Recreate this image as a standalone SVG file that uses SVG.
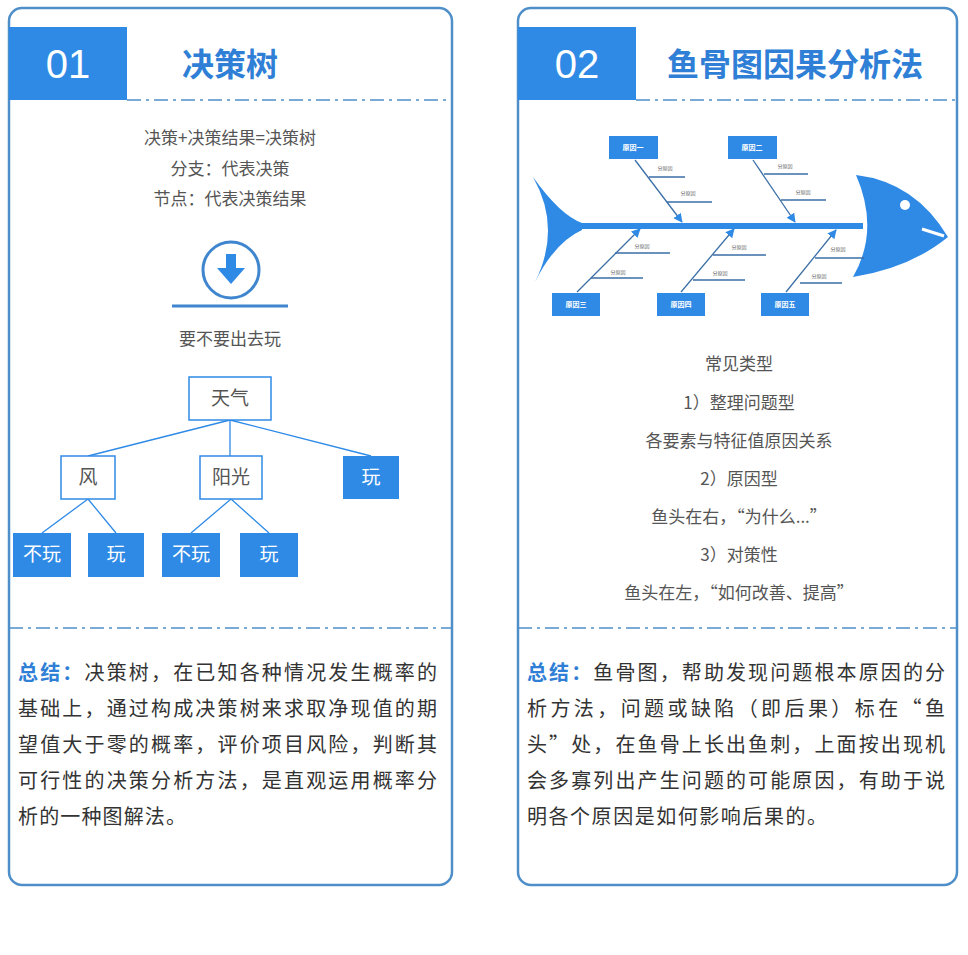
<svg xmlns="http://www.w3.org/2000/svg" width="968" height="955" viewBox="0 0 968 955">
<style>
text{font-family:"Noto Sans CJK SC","Liberation Sans",sans-serif}
.panel{fill:#fff;stroke:#4f8fc9;stroke-width:2.5}
.dash{stroke:#4f8fc9;stroke-width:1.5;stroke-dasharray:14 5 3 5;fill:none}
.hdr{fill:#2f8ae6}
.num{fill:#fff;font-size:40px;font-family:"Liberation Sans",sans-serif}
.title{fill:#2f7fd6;font-size:32px;font-weight:bold}
.mid{fill:#555;font-size:17px;text-anchor:middle}
.sum{fill:#333;font-size:20px}
.sb{fill:#2f7fd6;font-weight:bold}
.nb{fill:#fff;stroke:#2f8ae6;stroke-width:1.5}
.nf{fill:#2f8ae6}
.nt{font-size:19px;text-anchor:middle;fill:#555}
.ntw{font-size:19px;text-anchor:middle;fill:#fff}
.ln{stroke:#2f8ae6;stroke-width:1.3;fill:none}
.fb{fill:#2f8ae6}
.bone{stroke:#3b6fa6;stroke-width:1.3;fill:none}
.fl{font-size:7px;fill:#fff;text-anchor:middle;font-weight:bold}
.sl{font-size:5px;fill:#666;text-anchor:middle}
</style>
<defs><marker id="ah" viewBox="0 0 10 10" refX="9" refY="5" markerWidth="7" markerHeight="7" orient="auto"><path d="M0,0L10,5L0,10z" fill="#2f8ae6"/></marker></defs>
<rect x="0" y="0" width="968" height="955" fill="#fff"/>
<g id="panel1">
<rect class="panel" x="9" y="8" width="443" height="877" rx="13"/>
<rect class="hdr" x="9" y="27" width="118" height="73"/>
<text class="num" x="68" y="78" text-anchor="middle">01</text>
<text class="title" x="230" y="76" text-anchor="middle">决策树</text>
<line class="dash" x1="127" y1="100" x2="452" y2="100"/>
<text class="mid" x="230" y="144">决策+决策结果=决策树</text>
<text class="mid" x="230" y="175">分支：代表决策</text>
<text class="mid" x="230" y="205">节点：代表决策结果</text>
<circle cx="231" cy="270" r="28" fill="none" stroke="#3f86cf" stroke-width="3"/>
<path d="M226,254h10v14h9l-14,16l-14,-16h9z" fill="#2f8ae6"/>
<line x1="172" y1="306" x2="288" y2="306" stroke="#3f86cf" stroke-width="3"/>
<text class="mid" x="230" y="345">要不要出去玩</text>
</g>
<g id="tree-connectors">
<path class="ln" d="M230,420L88,456M230,420V456M230,420L371,456M88,499L42,533M88,499L116,533M231,499L191,533M231,499L269,533"/>
</g>
<g id="n-tianqi"><rect class="nb" x="189" y="377" width="82" height="43"/><text class="nt" x="230" y="405">天气</text></g>
<g id="n-feng"><rect class="nb" x="61" y="456" width="54" height="43"/><text class="nt" x="88" y="484">风</text></g>
<g id="n-yangguang"><rect class="nb" x="200" y="456" width="62" height="43"/><text class="nt" x="231" y="484">阳光</text></g>
<g id="n-wan1"><rect class="nf" x="343" y="456" width="56" height="43"/><text class="ntw" x="371" y="484">玩</text></g>
<g id="n-buwan1"><rect class="nf" x="13" y="533" width="58" height="44"/><text class="ntw" x="42" y="561">不玩</text></g>
<g id="n-wan2"><rect class="nf" x="88" y="533" width="56" height="44"/><text class="ntw" x="116" y="561">玩</text></g>
<g id="n-buwan2"><rect class="nf" x="162" y="533" width="58" height="44"/><text class="ntw" x="191" y="561">不玩</text></g>
<g id="n-wan3"><rect class="nf" x="240" y="533" width="58" height="44"/><text class="ntw" x="269" y="561">玩</text></g>
<g id="summary1">
<line class="dash" x1="9" y1="628" x2="452" y2="628"/>
<text class="sum" x="18" y="680" textLength="419" lengthAdjust="spacing"><tspan class="sb">总结：</tspan>决策树，在已知各种情况发生概率的</text>
<text class="sum" x="18" y="716" textLength="419" lengthAdjust="spacing">基础上，通过构成决策树来求取净现值的期</text>
<text class="sum" x="18" y="752" textLength="419" lengthAdjust="spacing">望值大于零的概率，评价项目风险，判断其</text>
<text class="sum" x="18" y="788" textLength="419" lengthAdjust="spacing">可行性的决策分析方法，是直观运用概率分</text>
<text class="sum" x="18" y="824" textLength="168" lengthAdjust="spacing">析的一种图解法。</text>
</g>
<g id="panel2">
<rect class="panel" x="518" y="8" width="439" height="877" rx="13"/>
<rect class="hdr" x="518" y="27" width="118" height="73"/>
<text class="num" x="577" y="78" text-anchor="middle">02</text>
<text class="title" x="795" y="76" text-anchor="middle">鱼骨图因果分析法</text>
<line class="dash" x1="636" y1="100" x2="957" y2="100"/>
</g>
<g id="fish">
<path class="fb" d="M533,177Q560,215 582,223L582,230Q555,242 535,282Q562,228 533,177z"/>
<rect class="fb" x="578" y="223" width="285" height="6"/>
<path class="fb" d="M856,175Q915,182 948,237Q910,268 853,277Q880,230 856,175z"/>
<path d="M922,229L944,236" stroke="#fff" stroke-width="3"/>
<circle cx="905" cy="205" r="5" fill="#fff"/>
</g>
<g id="fish-connectors">
<line class="bone" marker-end="url(#ah)" x1="635" y1="160" x2="682" y2="222"/>
<line class="bone" marker-end="url(#ah)" x1="753" y1="160" x2="795" y2="222"/>
<line class="bone" marker-end="url(#ah)" x1="577" y1="292" x2="640" y2="229"/>
<line class="bone" marker-end="url(#ah)" x1="681" y1="292" x2="734" y2="229"/>
<line class="bone" marker-end="url(#ah)" x1="786" y1="292" x2="836" y2="230"/>
<path class="bone" d="M649,177H685M667,202H712M764,174H808M781,200H826M615,253H670M591,278H643M713,255H766M693,280H745M815,258H864M800,283H842"/>
<g class="sl"><text x="665" y="170">分原因</text><text x="688" y="195">分原因</text><text x="785" y="168">分原因</text><text x="803" y="194">分原因</text><text x="642" y="248">分原因</text><text x="618" y="274">分原因</text><text x="739" y="249">分原因</text><text x="720" y="275">分原因</text><text x="838" y="251">分原因</text><text x="819" y="278">分原因</text></g>
</g>
<g id="c1"><rect class="fb" x="609" y="136" width="49" height="23"/><text class="fl" x="633" y="150">原因一</text></g>
<g id="c2"><rect class="fb" x="728" y="136" width="49" height="23"/><text class="fl" x="752" y="150">原因二</text></g>
<g id="c3"><rect class="fb" x="552" y="293" width="48" height="23"/><text class="fl" x="576" y="307">原因三</text></g>
<g id="c4"><rect class="fb" x="657" y="293" width="48" height="23"/><text class="fl" x="681" y="307">原因四</text></g>
<g id="c5"><rect class="fb" x="761" y="293" width="48" height="23"/><text class="fl" x="785" y="307">原因五</text></g>
<g id="types">
<text class="mid" x="739" y="370">常见类型</text>
<text class="mid" x="739" y="409">1）整理问题型</text>
<text class="mid" x="739" y="447">各要素与特征值原因关系</text>
<text class="mid" x="739" y="485">2）原因型</text>
<text class="mid" x="739" y="523">鱼头在右，“为什么...”</text>
<text class="mid" x="739" y="561">3）对策性</text>
<text class="mid" x="739" y="599">鱼头在左，“如何改善、提高”</text>
</g>
<g id="summary2">
<line class="dash" x1="518" y1="628" x2="957" y2="628"/>
<text class="sum" x="527" y="680" textLength="418" lengthAdjust="spacing"><tspan class="sb">总结：</tspan>鱼骨图，帮助发现问题根本原因的分</text>
<text class="sum" x="527" y="716" textLength="418" lengthAdjust="spacing">析方法，问题或缺陷（即后果）标在“鱼</text>
<text class="sum" x="527" y="752" textLength="418" lengthAdjust="spacing">头”处，在鱼骨上长出鱼刺，上面按出现机</text>
<text class="sum" x="527" y="788" textLength="418" lengthAdjust="spacing">会多寡列出产生问题的可能原因，有助于说</text>
<text class="sum" x="527" y="824" textLength="300" lengthAdjust="spacing">明各个原因是如何影响后果的。</text>
</g>
</svg>
